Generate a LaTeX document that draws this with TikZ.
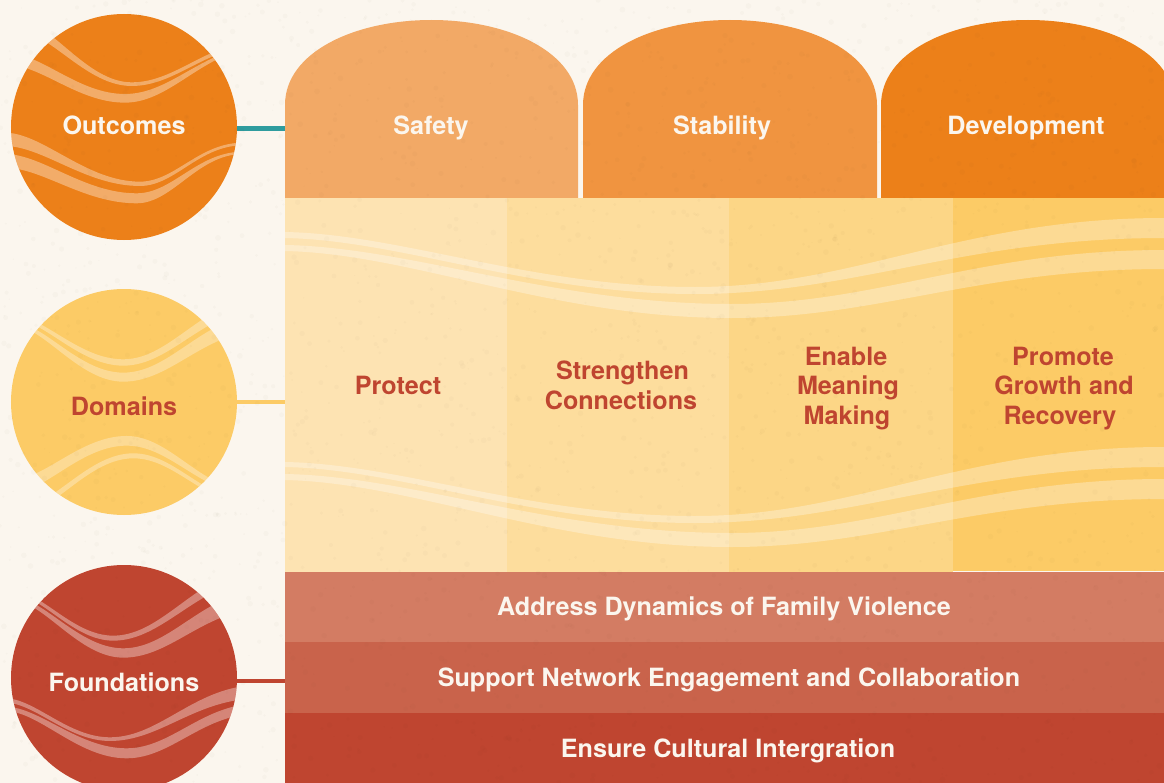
\documentclass[tikz,border=0pt]{standalone}
\usepackage{fontspec}
\setmainfont{TeX Gyre Heros}
\usetikzlibrary{calc}
\definecolor{paper}{HTML}{FBF6EE}
\definecolor{orangeA}{HTML}{EC8019}
\definecolor{orangeB}{HTML}{F09440}
\definecolor{orangeC}{HTML}{F2A966}
\definecolor{yelA}{HTML}{FDE3B2}
\definecolor{yelB}{HTML}{FDDD9D}
\definecolor{yelC}{HTML}{FCD686}
\definecolor{yelD}{HTML}{FCCB66}
\definecolor{redA}{HTML}{BF4530}
\definecolor{redB}{HTML}{C9634B}
\definecolor{redC}{HTML}{D37C63}
\definecolor{tealc}{HTML}{2F9C9E}
\tikzset{
  x=1bp,y=-1bp,
  disc/.style={circle,minimum size=226bp,inner sep=0pt,outer sep=0pt},
  lab/.style={font=\bfseries\fontsize{25.15bp}{29.7bp}\selectfont,text=paper,inner sep=0pt,align=center},
  dlab/.style={font=\bfseries\fontsize{25.15bp}{29.7bp}\selectfont,text=redA,inner sep=0pt,align=center},
  cell/.style={rectangle,inner sep=0pt,outer sep=0pt,anchor=north west},
  link/.style={line width=#1},
  zoomed/.style={x=.3333bp,y=-.3333bp},
}
\def\waveop{.3}
% \wband{xL}{xM}{xR}{top yL}{top yM}{top yR}{bottom yL}{bottom yM}{bottom yR}
\newcommand{\wband}[9]{\fill[white,fill opacity=\waveop]
  (#1,#4) .. controls ({#1+.285*(#2-#1)},{#4+.04*(#5-#4)}) and ({#2-.4*(#2-#1)},#5) .. (#2,#5)
  .. controls ({#2+.34*(#3-#2)},#5) and ({#3-.43*(#3-#2)},#6) .. (#3,#6)
  -- (#3,#9) .. controls ({#3-.43*(#3-#2)},#9) and ({#2+.34*(#3-#2)},#8) .. (#2,#8)
  .. controls ({#2-.4*(#2-#1)},#8) and ({#1+.285*(#2-#1)},{#7+.04*(#8-#7)}) .. (#1,#7) -- cycle;}
\newcommand{\arch}[3]{\fill[#3] (#1,198) -- (#1,105) .. controls (#1,52) and ({#1+70},20) .. ({(#1+#2)/2},20) .. controls ({#2-70},20) and (#2,52) .. (#2,105) -- (#2,198) -- cycle;}
\begin{document}
\begin{tikzpicture}
\useasboundingbox (0,0) rectangle (1164,783);
\fill[paper] (0,0) rectangle (1164,783);

% arches
\begin{scope}
\clip (0,0) rectangle (1164,783);
\arch{285}{578}{orangeC}
\arch{583}{877}{orangeB}
\arch{881}{1175}{orangeA}
\end{scope}

% domain columns
\node[cell,fill=yelA,minimum width=222bp,minimum height=374bp] (colA) at (285,198) {};
\node[cell,fill=yelB,minimum width=222bp,minimum height=374bp] (colB) at (507,198) {};
\node[cell,fill=yelC,minimum width=224bp,minimum height=374bp] (colC) at (729,198) {};
\node[cell,fill=yelD,minimum width=211bp,minimum height=373bp] (colD) at (953,198) {};

% waves of the domain panel
\wband{285}{695}{1164}{232}{287}{218}{238}{294}{238}
\wband{285}{731}{1164}{245}{304}{250}{251}{318}{269}
\wband{285}{695}{1164}{462}{516}{447}{467}{523}{467}
\wband{285}{731}{1164}{474}{533}{479}{480}{547}{499}

% foundations
\node[cell,fill=redC,minimum width=879bp,minimum height=70bp] (barA) at (285,572) {};
\node[cell,fill=redB,minimum width=879bp,minimum height=71bp] (barB) at (285,642) {};
\node[cell,fill=redA,minimum width=879bp,minimum height=70bp] (barC) at (285,713) {};

% discs
\node[disc,fill=orangeA] (outcomes) at (124,127) {};
\node[disc,fill=yelD] (domains) at (124,402) {};
\node[disc,fill=redA] (foundations) at (124,678) {};

% connectors
\coordinate (outJoin) at (outcomes.east |- 0,128);
\coordinate (safetyJoin) at (285,128);
\draw[link=5bp,tealc] (outJoin) -- (safetyJoin);
\draw[link=4bp,yelD] (domains.east) -- (domains.east -| colA.west);
\coordinate (fndJoin) at (foundations.east |- 0,681);
\draw[link=4bp,redA] (fndJoin) -- (fndJoin -| barB.west);

% disc waves
\begin{scope}
\clip (124,127) circle (113);
\begin{scope}[zoomed]
\def\waveop{.35}
\wband{60}{395}{800}{60}{247}{120}{95}{258}{132}
\wband{30}{375}{800}{160}{282}{135}{195}{308}{140}
\wband{20}{420}{730}{398}{545}{428}{438}{558}{436}
\wband{20}{410}{730}{462}{580}{455}{503}{610}{462}
\end{scope}
\end{scope}

\begin{scope}
\clip (124,402) circle (113);
\begin{scope}[shift={(0,280)},zoomed]
\wband{40}{370}{800}{105}{238}{50}{115}{257}{85}
\wband{40}{370}{800}{125}{278}{100}{135}{305}{150}
\wband{40}{380}{780}{600}{468}{640}{640}{497}{650}
\wband{70}{400}{780}{680}{520}{670}{700}{535}{680}
\end{scope}
\end{scope}

\begin{scope}
\clip (124,678) circle (113);
\begin{scope}[shift={(0,550)},zoomed]
\def\waveop{.35}
\wband{40}{340}{800}{120}{257}{50}{130}{272}{85}
\wband{40}{370}{800}{140}{295}{120}{150}{323}{175}
\wband{20}{330}{780}{445}{562}{405}{458}{573}{445}
\wband{20}{380}{780}{470}{595}{460}{483}{625}{490}
\end{scope}
\end{scope}

% paper mottling
\begin{scope}
\pgfmathsetseed{4242}
\foreach \i in {1,...,2600}{
  \pgfmathsetmacro{\px}{rnd*1164}
  \pgfmathsetmacro{\py}{rnd*783}
  \pgfmathsetmacro{\pr}{.7+rnd*2.2}
  \fill[black!60!brown,fill opacity=.02] (\px,\py) circle (\pr);
}
\end{scope}

% labels
\node[lab] (safety) at (431,128) {Safety};
\node[lab] (stability) at (722,128) {Stability};
\node[lab] (development) at (1026,128) {Development};
\node[dlab] (protect) at (398,385) {Protect};
\node[dlab] (strengthen) at (621,385.5) {\hspace*{3bp}Strengthen\\Connections};
\node[dlab] (meaning) at (847,388.5) {Enable\hspace*{2bp}\\\hspace*{2bp}Meaning\\Making};
\node[dlab] (growth) at (1062,388.5) {\hspace*{2bp}Promote\\\hspace*{4bp}Growth and\\Recovery\hspace*{4bp}};
\node[lab] (family) at (724,609) {Address Dynamics of Family Violence};
\node[lab] (network) at (729,680) {Support Network Engagement and Collaboration};
\node[lab] (culture) at (728,751) {Ensure Cultural Intergration};
\node[lab] (outLabel) at (124,125) {Outcomes};
\node[dlab] (domLabel) at (124,406) {Domains};
\node[lab] (fndLabel) at (124,682) {Foundations};
\end{tikzpicture}
\end{document}
